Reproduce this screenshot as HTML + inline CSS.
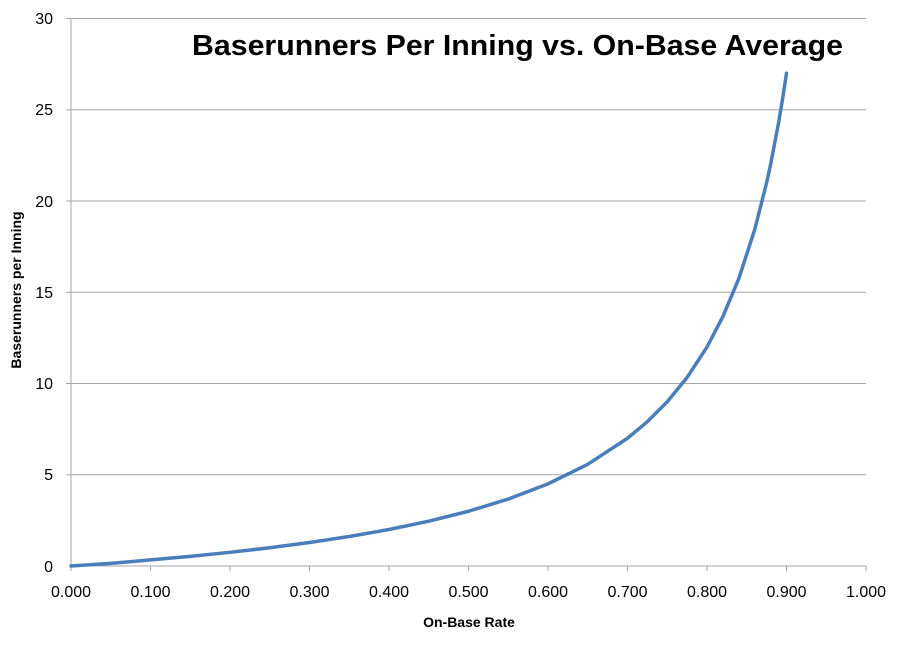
<!DOCTYPE html>
<html><head><meta charset="utf-8"><style>body{margin:0;background:#fff}svg{display:block}</style></head><body>
<svg width="900" height="655" xmlns="http://www.w3.org/2000/svg" font-family="Liberation Sans, sans-serif">
<rect width="900" height="655" fill="#fff"/>
<g stroke="#a6a6a6" stroke-width="1">
<line x1="71" y1="18.5" x2="866" y2="18.5"/>
<line x1="71" y1="109.8" x2="866" y2="109.8"/>
<line x1="71" y1="201" x2="866" y2="201"/>
<line x1="71" y1="292.3" x2="866" y2="292.3"/>
<line x1="71" y1="383.5" x2="866" y2="383.5"/>
<line x1="71" y1="474.8" x2="866" y2="474.8"/>
<line x1="71" y1="566" x2="866" y2="566"/>
<line x1="71" y1="18" x2="71" y2="571"/>
<line x1="66" y1="18.5" x2="71" y2="18.5"/><line x1="66" y1="109.8" x2="71" y2="109.8"/><line x1="66" y1="201" x2="71" y2="201"/><line x1="66" y1="292.3" x2="71" y2="292.3"/><line x1="66" y1="383.5" x2="71" y2="383.5"/><line x1="66" y1="474.8" x2="71" y2="474.8"/>
<line x1="150.5" y1="566" x2="150.5" y2="571"/><line x1="230" y1="566" x2="230" y2="571"/><line x1="309.5" y1="566" x2="309.5" y2="571"/><line x1="389" y1="566" x2="389" y2="571"/><line x1="468.5" y1="566" x2="468.5" y2="571"/><line x1="548" y1="566" x2="548" y2="571"/><line x1="627.5" y1="566" x2="627.5" y2="571"/><line x1="707" y1="566" x2="707" y2="571"/><line x1="786.5" y1="566" x2="786.5" y2="571"/><line x1="866" y1="566" x2="866" y2="571"/>
</g>
<g font-size="16" fill="#000" text-anchor="end">
<text x="53" y="24">30</text><text x="53" y="115">25</text><text x="53" y="207">20</text><text x="53" y="298">15</text><text x="53" y="389">10</text><text x="53" y="480">5</text><text x="53" y="572">0</text>
</g>
<g font-size="16" fill="#000" text-anchor="middle">
<text x="71" y="597">0.000</text><text x="150.5" y="597">0.100</text><text x="230" y="597">0.200</text><text x="309.5" y="597">0.300</text><text x="389" y="597">0.400</text><text x="468.5" y="597">0.500</text><text x="548" y="597">0.600</text><text x="627.5" y="597">0.700</text><text x="707" y="597">0.800</text><text x="786.5" y="597">0.900</text><text x="866" y="597">1.000</text>
</g>
<text x="469" y="627" font-size="14" font-weight="bold" text-anchor="middle">On-Base Rate</text>
<text transform="translate(21,290) rotate(-90)" font-size="14" font-weight="bold" text-anchor="middle">Baserunners per Inning</text>
<text x="192" y="55" font-size="29" font-weight="bold" textLength="651" lengthAdjust="spacingAndGlyphs">Baserunners Per Inning vs. On-Base Average</text>
<polyline fill="none" stroke="#4a7ebb" stroke-width="3.5" stroke-linejoin="round" stroke-linecap="round"
points="71,566 113.75,563.12 150.5,559.92 190.25,556.34 230,552.31 269.75,547.75 309.5,542.54 349.25,536.52 389,529.5 428.75,521.2 468.5,511.25 508.25,499.08 548,483.88 587.75,464.32 627.5,438.25 647.4,421.66 667.25,401.75 687.1,377.42 707,347 722.9,316.58 738.8,278.56 754.7,229.65 766.6,182.75 770.6,164.5 778.55,123 782.5,99.3 786.5,73.25"/>
</svg>
</body></html>
